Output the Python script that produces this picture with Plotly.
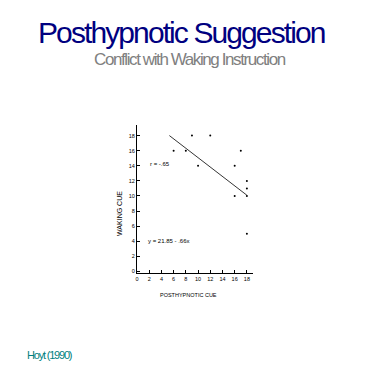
import plotly.graph_objects as go

# data
posthypnotic_cue = [6, 8, 9, 10, 12, 16, 16, 17, 18, 18, 18, 18]
waking_cue = [16, 16, 18, 14, 18, 14, 10, 16, 12, 11, 10, 5]
fit_x = [5.3, 18]
fit_y = [18.0, 10.1]
tick_vals = [0, 2, 4, 6, 8, 10, 12, 14, 16, 18]

OFF = 8  # page body margin in the browser
L, R, T, B = 137 - OFF, 253 - OFF, 125 - OFF, 273 - OFF
W, H = R - L, B - T

def px(x):
    return (x - OFF - L) / W

def py(y):
    return (B - (y - OFF)) / H

fig = go.Figure()
fig.add_trace(go.Scatter(x=fit_x, y=fit_y, mode="lines",
                         line=dict(color="black", width=0.8), hoverinfo="skip"))
fig.add_trace(go.Scatter(x=posthypnotic_cue, y=waking_cue, mode="markers",
                         marker=dict(color="black", size=2, line=dict(width=0))))

axis_common = dict(showline=True, linecolor="black", linewidth=1, ticks="inside",
                   ticklen=3, tickcolor="black", showgrid=False, zeroline=False,
                   automargin=False, tickvals=tick_vals,
                   tickfont=dict(size=5.5, color="black", family="Liberation Sans"))
fig.update_xaxes(range=[0, 19], **axis_common)
fig.update_yaxes(range=[-0.2, 19.4], **axis_common)

small = dict(size=6, color="black", family="Liberation Sans")
annotations = [
    dict(x=1.8, y=14.3, text="r = -.65", showarrow=False, xanchor="left", font=small),
    dict(x=1.5, y=4.1, text="y = 21.85 - .66x", showarrow=False, xanchor="left", font=small),
    dict(xref="paper", yref="paper", x=px(188), y=py(295), text="POSTHYPNOTIC CUE",
         showarrow=False, xanchor="center", yanchor="middle",
         font=dict(size=5.5, color="black", family="Liberation Sans")),
    dict(xref="paper", yref="paper", x=px(119), y=py(214), text="WAKING CUE", textangle=-90,
         showarrow=False, xanchor="center", yanchor="middle",
         font=dict(size=7, color="black", family="Liberation Sans")),
    dict(xref="paper", yref="paper", x=px(181), y=py(32),
         text='<span style="letter-spacing:-1.9px">Posthypnotic Suggestion</span>',
         showarrow=False, xanchor="center", yanchor="middle",
         font=dict(size=30, color="#000080", family="Liberation Sans")),
    dict(xref="paper", yref="paper", x=px(190), y=py(60),
         text='<span style="letter-spacing:-1.4px">Conflict with Waking Instruction</span>',
         showarrow=False, xanchor="center", yanchor="middle",
         font=dict(size=17, color="#808080", family="Liberation Sans")),
    dict(xref="paper", yref="paper", x=px(25), y=py(355),
         text='<span style="letter-spacing:-1.2px">Hoyt (1990)</span>',
         showarrow=False, xanchor="left", yanchor="middle",
         font=dict(size=11, color="#008080", family="Liberation Sans")),
]

fig.update_layout(
    width=375, height=375, showlegend=False,
    plot_bgcolor="white", paper_bgcolor="white",
    margin=dict(l=L, r=375 - R, t=T, b=375 - B),
    annotations=annotations,
)

fig.write_html("out.html")
